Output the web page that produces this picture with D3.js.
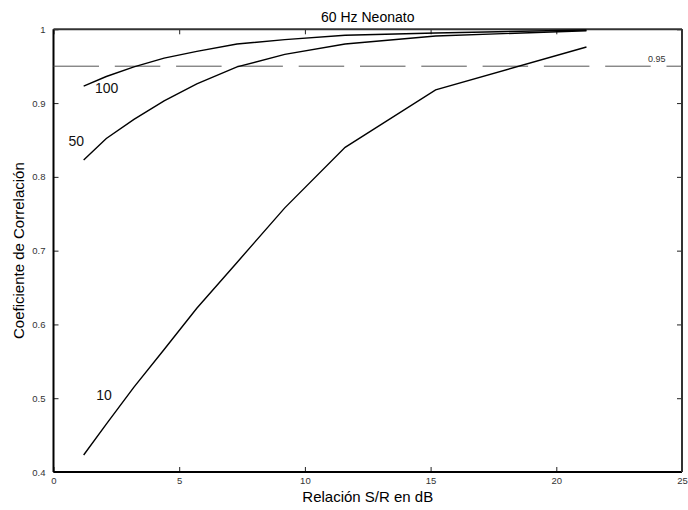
<!DOCTYPE html>
<html>
<head>
<meta charset="utf-8">
<script src="https://cdn.jsdelivr.net/npm/d3@7"></script>
<style>
  body { margin: 0; background: #fff; }
  text { font-family: "Liberation Sans", Arial, sans-serif; }
</style>
</head>
<body>
<div id="chart"></div>
<script>
// data
const snr = [1.2, 2.1, 3.2, 4.4, 5.7, 7.3, 9.2, 11.6, 15.2, 21.2];
const corr10 = [0.423, 0.465, 0.515, 0.566, 0.622, 0.684, 0.758, 0.840, 0.918, 0.976];
const corr50 = [0.823, 0.852, 0.878, 0.903, 0.926, 0.949, 0.966, 0.980, 0.991, 0.998];
const corr100 = [0.923, 0.936, 0.949, 0.961, 0.970, 0.980, 0.986, 0.992, 0.995, 0.999];
const seriesNames = ["10", "50", "100"];
const xTicks = [0, 5, 10, 15, 20, 25];
const yTicks = [0.4, 0.5, 0.6, 0.7, 0.8, 0.9, 1];
const threshold = 0.95;

const W = 688, H = 510;
const margin = { top: 29.3, right: 6, bottom: 38, left: 53.5 };
const width = W - margin.left - margin.right;
const height = H - margin.top - margin.bottom;

const svg = d3.select("#chart").append("svg")
    .attr("width", W)
    .attr("height", H);

const g = svg.append("g")
    .attr("transform", "translate(" + margin.left + "," + margin.top + ")");

const x = d3.scaleLinear().domain([0, 25]).range([0, width]);
const y = d3.scaleLinear().domain([0.4, 1]).range([height, 0]);

// axes, matlab style: ticks inside, on all four sides
const tickFmt = d => d === 1 ? "1" : String(d);

g.append("g")
    .attr("transform", "translate(0," + height + ")")
    .call(d3.axisBottom(x).tickValues(xTicks).tickSize(-5).tickPadding(5).tickFormat(tickFmt));

g.append("g")
    .call(d3.axisLeft(y).tickValues(yTicks).tickSize(-5).tickPadding(8).tickFormat(tickFmt));

g.append("g")
    .call(d3.axisTop(x).tickValues(xTicks).tickSize(-5).tickFormat(""));

g.append("g")
    .attr("transform", "translate(" + width + ",0)")
    .call(d3.axisRight(y).tickValues(yTicks).tickSize(-5).tickFormat(""));

g.selectAll(".domain").remove();
g.selectAll(".tick line").attr("stroke", "#222").attr("stroke-width", 1);
g.selectAll(".tick text")
    .attr("fill", "#333")
    .style("font-size", "9.5px");

// frame
g.append("line").attr("x1", 0).attr("x2", 0).attr("y1", 0).attr("y2", height)
    .attr("stroke", "#000").attr("stroke-width", 2);
g.append("line").attr("x1", 0).attr("x2", width).attr("y1", height).attr("y2", height)
    .attr("stroke", "#000").attr("stroke-width", 2);
g.append("line").attr("x1", 0).attr("x2", width).attr("y1", 0).attr("y2", 0)
    .attr("stroke", "#333").attr("stroke-width", 2);
g.append("line").attr("x1", width).attr("x2", width).attr("y1", 0).attr("y2", height)
    .attr("stroke", "#333").attr("stroke-width", 2);

// 0.95 threshold
g.append("line")
    .attr("x1", x(0)).attr("x2", x(25))
    .attr("y1", y(threshold)).attr("y2", y(threshold))
    .attr("stroke", "#555")
    .attr("stroke-width", 1)
    .attr("stroke-dasharray", "45.5,15.8");

g.append("text")
    .attr("x", x(24.0))
    .attr("y", y(threshold) - 4)
    .attr("text-anchor", "middle")
    .attr("fill", "#333")
    .style("font-size", "9px")
    .text("0.95");

// curves
const line = d3.line()
    .x(d => x(d[0]))
    .y(d => y(d[1]));

const series = [corr10, corr50, corr100];
series.forEach(vals => {
    g.append("path")
        .datum(d3.zip(snr, vals))
        .attr("d", line)
        .attr("fill", "none")
        .attr("stroke", "#000")
        .attr("stroke-width", 1.4);
});

// curve labels
const labelPos = [[1.7, 0.497], [0.6, 0.842], [1.65, 0.914]];
seriesNames.forEach((name, i) => {
    g.append("text")
        .attr("x", x(labelPos[i][0]))
        .attr("y", y(labelPos[i][1]))
        .attr("fill", "#111")
        .style("font-size", "14px")
        .text(name);
});

// titles
svg.append("text")
    .attr("x", margin.left + width / 2)
    .attr("y", 22)
    .attr("text-anchor", "middle")
    .style("font-size", "14px")
    .text("60 Hz Neonato");

svg.append("text")
    .attr("x", margin.left + width / 2)
    .attr("y", 502)
    .attr("text-anchor", "middle")
    .style("font-size", "15px")
    .text("Relación S/R en dB");

svg.append("text")
    .attr("transform", "translate(24," + (margin.top + height / 2) + ") rotate(-90)")
    .attr("text-anchor", "middle")
    .style("font-size", "15px")
    .text("Coeficiente de Correlación");
</script>
</body>
</html>
